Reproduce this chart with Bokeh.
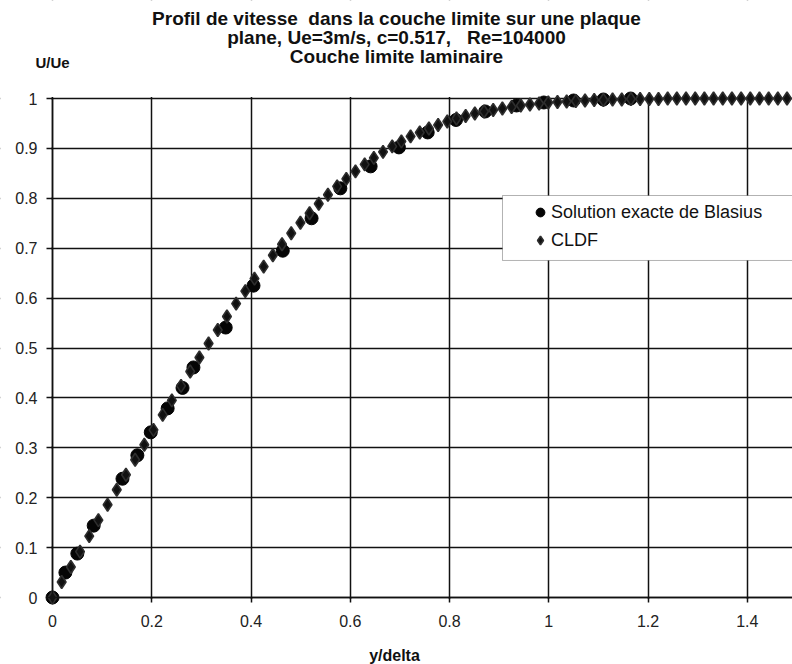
from bokeh.plotting import figure
from bokeh.models import (Range1d, Label, BoxAnnotation, Legend, LegendItem,
                          FixedTicker)
from bokeh.embed import file_html
from bokeh.resources import INLINE

# Exact Blasius solution (y/delta, U/Ue)
blasius_x = [0.0, 0.026, 0.05, 0.083, 0.141, 0.171, 0.198, 0.232, 0.262, 0.284,
             0.349, 0.405, 0.464, 0.522, 0.58, 0.641, 0.698, 0.756, 0.813, 0.872,
             0.935, 0.99, 1.05, 1.11, 1.165]
blasius_u = [0.0, 0.05, 0.088, 0.144, 0.238, 0.285, 0.331, 0.379, 0.42, 0.461,
             0.541, 0.625, 0.695, 0.76, 0.82, 0.864, 0.902, 0.932, 0.957, 0.974,
             0.986, 0.992, 0.996, 0.998, 1.0]

# Finite-difference boundary-layer solution (CLDF)
cldf_x = [0.0, 0.0185, 0.037, 0.0555, 0.074, 0.0925, 0.111, 0.1295, 0.148, 0.1665,
          0.185, 0.2035, 0.222, 0.2405, 0.259, 0.2775, 0.296, 0.3145, 0.333, 0.3515,
          0.37, 0.3885, 0.407, 0.4255, 0.444, 0.4625, 0.481, 0.4995, 0.518, 0.5365,
          0.555, 0.5735, 0.592, 0.6105, 0.629, 0.6475, 0.666, 0.6845, 0.703, 0.7215,
          0.74, 0.7585, 0.777, 0.7955, 0.814, 0.8325, 0.851, 0.8695, 0.888, 0.9065,
          0.925, 0.9435, 0.962, 0.9805, 0.999, 1.0175, 1.036, 1.0545, 1.073, 1.0915,
          1.11, 1.1285, 1.147, 1.1655, 1.184, 1.2025, 1.221, 1.2395, 1.258, 1.2765,
          1.295, 1.3135, 1.332, 1.3505, 1.369, 1.3875, 1.406, 1.4245, 1.443, 1.4615,
          1.48]
cldf_u = [0.0, 0.031, 0.061, 0.092, 0.123, 0.155, 0.186, 0.216, 0.246, 0.276,
          0.306, 0.336, 0.366, 0.395, 0.424, 0.453, 0.481, 0.509, 0.536, 0.563,
          0.589, 0.614, 0.639, 0.663, 0.686, 0.708, 0.73, 0.751, 0.77, 0.789,
          0.807, 0.824, 0.839, 0.854, 0.868, 0.881, 0.893, 0.904, 0.914, 0.924,
          0.932, 0.94, 0.947, 0.954, 0.96, 0.965, 0.97, 0.974, 0.977, 0.98,
          0.983, 0.986, 0.988, 0.99, 0.992, 0.993, 0.994, 0.995, 0.996, 0.997,
          0.997, 0.998, 0.998, 0.999, 0.999, 0.999, 0.999, 1.0, 1.0, 1.0,
          1.0, 1.0, 1.0, 1.0, 1.0, 1.0, 1.0, 1.0, 1.0, 1.0,
          1.0]

x_ticks = [0, 0.2, 0.4, 0.6, 0.8, 1.0, 1.2, 1.4]
x_tick_labels = ["0", "0.2", "0.4", "0.6", "0.8", "1", "1.2", "1.4"]
y_ticks = [0, 0.1, 0.2, 0.3, 0.4, 0.5, 0.6, 0.7, 0.8, 0.9, 1.0]
y_tick_labels = ["0", "0.1", "0.2", "0.3", "0.4", "0.5", "0.6", "0.7", "0.8", "0.9", "1"]

# non-breaking spaces keep the wider gaps of the title in SVG text
title_lines = ["Profil de vitesse\u00a0 dans la couche limite sur une plaque",
               "plane, Ue=3m/s, c=0.517,\u00a0\u00a0 Re=104000",
               "Couche limite laminaire"]
y_title = "U/Ue"
x_title = "y/delta"
series_names = ["Solution exacte de Blasius", "CLDF"]

W, H = 792, 664
FONT = "Liberation Sans"

# The frame fills the whole canvas; the ranges are chosen so that the plotting
# rectangle (0..1.49 x 0..1) sits where the axes belong, with the axes pinned
# at the origin and the surroundings masked in white.
X0_PX, PX_PER_X = 52.0, 496.3
Y0_PX, PX_PER_Y = 597.0, 499.0
X_MAX = (W - X0_PX) / PX_PER_X
p = figure(width=W, height=H, output_backend="svg", toolbar_location=None,
           x_range=Range1d(-X0_PX / PX_PER_X, X_MAX),
           y_range=Range1d(-(H - Y0_PX) / PX_PER_Y, Y0_PX / PX_PER_Y),
           min_border=0)
p.outline_line_color = None
p.background_fill_color = "white"
p.border_fill_color = "white"

for g, ticks in ((p.xgrid[0], x_ticks), (p.ygrid[0], y_ticks)):
    g.ticker = FixedTicker(ticks=ticks)
    g.grid_line_color = "#111111"
    g.grid_line_width = 1.5

# white masks around the plotting rectangle
for kw in (dict(right=-0.003), dict(top=-0.003), dict(bottom=1.003)):
    p.add_layout(BoxAnnotation(fill_color="white", fill_alpha=1.0, line_alpha=0,
                               level="underlay", **kw))

for ax, ticks, labels, bounds in ((p.xaxis[0], x_ticks, x_tick_labels, (0, X_MAX)),
                                  (p.yaxis[0], y_ticks, y_tick_labels, (0, 1))):
    ax.fixed_location = 0
    ax.bounds = bounds
    ax.ticker = FixedTicker(ticks=ticks)
    ax.major_label_overrides = dict(zip(ticks, labels))
    ax.minor_tick_line_color = None
    ax.major_tick_in = 0
    ax.major_tick_line_color = "#111111"
    ax.major_tick_line_width = 1.5
    ax.axis_line_color = "#111111"
    ax.axis_line_width = 1.5
    ax.major_label_text_font = FONT
    ax.major_label_text_font_size = "16px"
    ax.major_label_text_color = "#222222"
p.xaxis.major_tick_out = 5
p.xaxis.major_label_standoff = 12
p.yaxis.major_tick_out = 6
p.yaxis.major_label_standoff = 9

r_blas = p.scatter(blasius_x, blasius_u, marker="circle", size=13,
                   fill_color="#050505", line_color="#050505")
r_cldf = p.scatter(cldf_x, cldf_u, marker="diamond", size=13,
                   fill_color="#111111", line_color="#2e2e2e", line_width=1.6)

# legend frame
p.add_layout(BoxAnnotation(left=0.9067, right=1.7, top=0.8056, bottom=0.6754,
                           fill_color="white", fill_alpha=1.0,
                           line_color="black", line_width=1))
legend = Legend(items=[LegendItem(label=series_names[0], renderers=[r_blas]),
                       LegendItem(label=series_names[1], renderers=[r_cldf])],
                location=(529, H - 251), padding=0, margin=0, spacing=6,
                glyph_width=22, glyph_height=22, label_height=22,
                label_standoff=0, background_fill_alpha=0, border_line_alpha=0,
                label_text_font=FONT, label_text_font_size="18px",
                label_text_color="#111111")
p.add_layout(legend, "center")

# title block, axis titles (screen positions measured from the bottom-left)
for text, y_px in zip(title_lines, (18, 37, 56)):
    p.add_layout(Label(x=396, y=H - y_px, x_units="screen", y_units="screen",
                       text=text, text_align="center", text_baseline="middle",
                       text_font=FONT, text_font_style="bold",
                       text_font_size="19px", text_color="#111111"))
p.add_layout(Label(x=35, y=H - 62, x_units="screen", y_units="screen", text=y_title,
                   text_align="left", text_baseline="middle", text_font=FONT,
                   text_font_style="bold", text_font_size="15px", text_color="#111111"))
p.add_layout(Label(x=394, y=H - 655, x_units="screen", y_units="screen", text=x_title,
                   text_align="center", text_baseline="middle", text_font=FONT,
                   text_font_style="bold", text_font_size="16px", text_color="#111111"))

open("out.html", "w").write(file_html(p, INLINE))
